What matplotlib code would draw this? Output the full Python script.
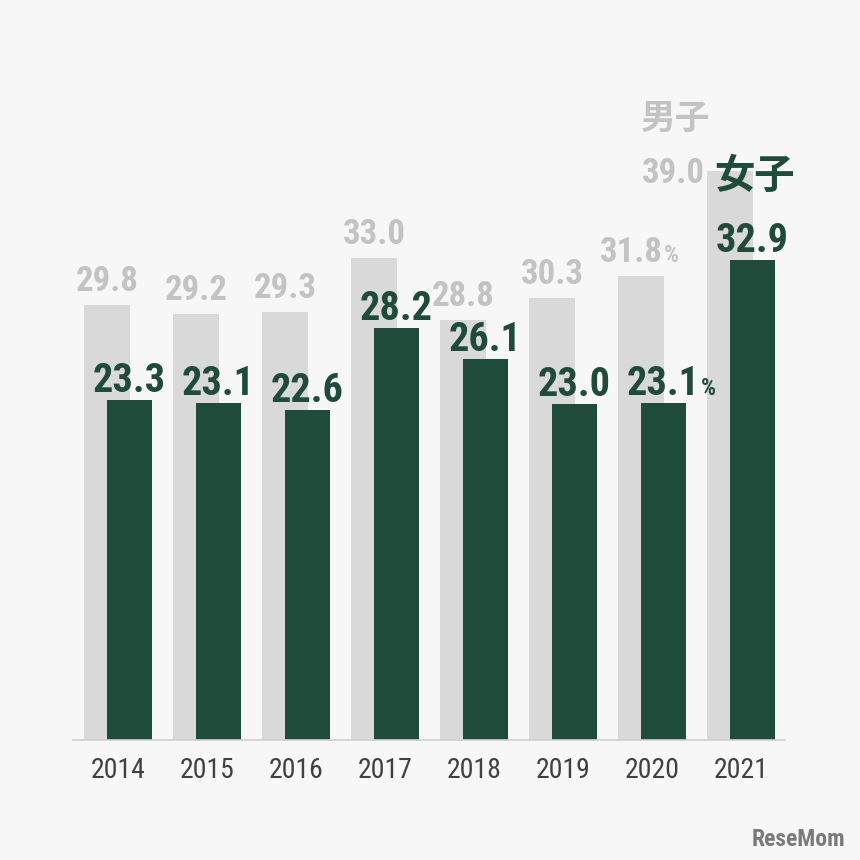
import matplotlib
import matplotlib.pyplot as plt
import numpy as np

matplotlib.use("agg")

years = ["2014", "2015", "2016", "2017", "2018", "2019", "2020", "2021"]
boys = [29.8, 29.2, 29.3, 33.0, 28.8, 30.3, 31.8, 39.0]
girls = [23.3, 23.1, 22.6, 28.2, 26.1, 23.0, 23.1, 32.9]

BG = "#f7f7f7"
GRAY_BAR = "#d9d9d9"
GRAY_TXT = "#c3c3c3"
GREEN = "#1f4b3a"
NUM_FONT = ["Roboto Condensed", "Archivo Narrow", "Barlow Condensed", "Liberation Sans"]
JP_FONT = ["Noto Sans CJK JP", "DejaVu Sans"]

fig = plt.figure(figsize=(8.6, 8.6), dpi=100, facecolor=BG)
ax = fig.add_axes([73 / 860, 120 / 860, 712 / 860, 45 * 14.6 / 860])
ax.set_facecolor(BG)

x = np.arange(len(years))
w = 0.506
off = 0.124
ax.bar(x - off, boys, w, color=GRAY_BAR, zorder=1)
ax.bar(x + off, girls, w, color=GREEN, zorder=2)

ax.set_xlim(-0.506, 7.494)
ax.set_ylim(0, 45)
for s in ["top", "right", "left"]:
    ax.spines[s].set_visible(False)
ax.spines["bottom"].set_color("#d0d0d0")
ax.spines["bottom"].set_linewidth(1.2)
ax.set_yticks([])
ax.set_xticks(x)
ax.set_xticklabels(years, family=NUM_FONT, fontsize=20, color="#404040")
ax.tick_params(axis="x", length=0, pad=12)

px = 72 / 100  # points per pixel
gray_kw = dict(textcoords="offset points", va="baseline", family=NUM_FONT,
               fontsize=25, fontweight="bold", color=GRAY_TXT, zorder=3)
green_kw = dict(textcoords="offset points", va="baseline", family=NUM_FONT,
                fontsize=29, fontweight="bold", color=GREEN, zorder=4)

for i, v in enumerate(boys):
    if i == 7:
        # 2021: label sits left of the bar
        ax.annotate(f"{v:.1f}", xy=(i - off - w / 2, v), xytext=(-3 * px, -12 * px),
                    ha="right", **gray_kw)
    elif i == 6:
        ax.annotate(f"{v:.1f}", xy=(i - off, v), xytext=(22 * px, 14 * px),
                    ha="right", **gray_kw)
    else:
        ax.annotate(f"{v:.1f}", xy=(i - off, v), xytext=(0, 14 * px),
                    ha="center", **gray_kw)

for i, v in enumerate(girls):
    ax.annotate(f"{v:.1f}", xy=(i + off, v), xytext=(0, 8 * px),
                ha="center", **green_kw)

# small percent signs on 2020
ax.annotate("%", xy=(6 - off, boys[6]), xytext=(23 * px, 14 * px),
            textcoords="offset points", ha="left", va="baseline",
            family=NUM_FONT, fontsize=17, fontweight="bold", color=GRAY_TXT)
ax.annotate("%", xy=(6 + off, girls[6]), xytext=(38 * px, 8 * px),
            textcoords="offset points", ha="left", va="baseline",
            family=NUM_FONT, fontsize=17, fontweight="bold", color=GREEN)

# series names
fig.text(676 / 860, 1 - 118 / 860, "男子", family=JP_FONT, fontsize=25,
         fontweight="bold", color=GRAY_TXT, ha="center", va="center")
fig.text(754 / 860, 1 - 176 / 860, "女子", family=JP_FONT, fontsize=29,
         fontweight="bold", color=GREEN, ha="center", va="center")

fig.text(845 / 860, 1 - 840 / 860, "ReseMom", family=NUM_FONT, fontsize=17,
         fontweight="bold", color="#7a7a7a", ha="right", va="center")

plt.savefig("out.png", dpi=100, facecolor=BG)
plt.close(fig)
